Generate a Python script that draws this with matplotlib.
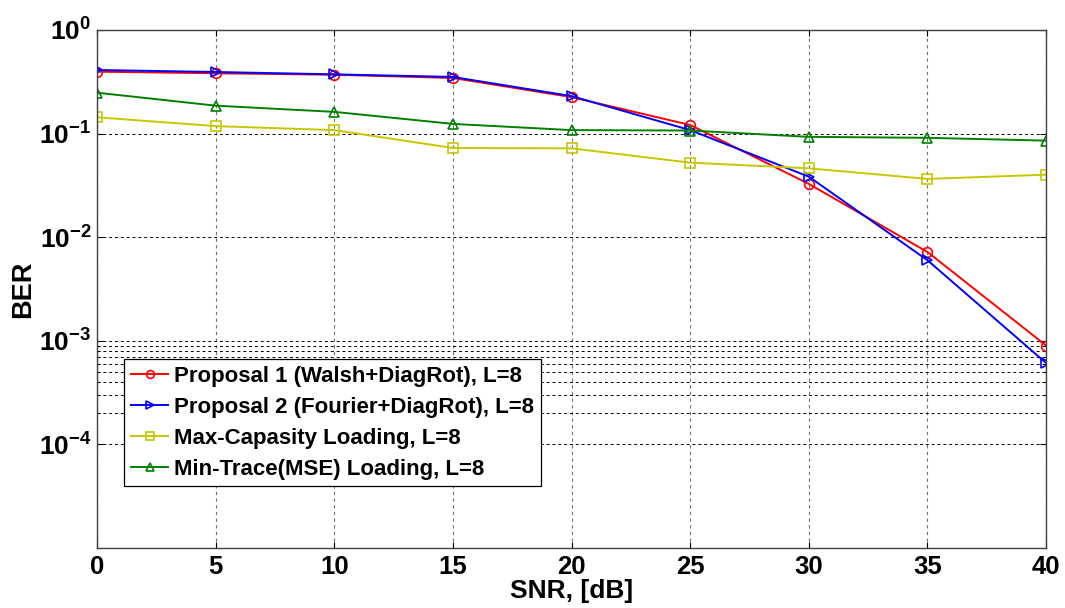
import matplotlib
matplotlib.use('Agg')
import matplotlib.pyplot as plt
from matplotlib.ticker import FixedLocator, NullFormatter

plt.rcParams['font.family'] = ['Liberation Sans', 'DejaVu Sans']
plt.rcParams['mathtext.fontset'] = 'custom'
plt.rcParams['mathtext.rm'] = 'Liberation Sans'
plt.rcParams['mathtext.bf'] = 'Liberation Sans:bold'

snr = [0, 5, 10, 15, 20, 25, 30, 35, 40]
ber_walsh = [0.396, 0.382, 0.370, 0.344, 0.225, 0.121, 0.0327, 0.0072, 0.00090]
ber_fourier = [0.411, 0.393, 0.373, 0.352, 0.230, 0.108, 0.0384, 0.0060, 0.00061]
ber_maxcap = [0.1436, 0.118, 0.108, 0.0726, 0.072, 0.0524, 0.0462, 0.0365, 0.0401]
ber_mintrace = [0.248, 0.186, 0.162, 0.124, 0.108, 0.107, 0.093, 0.091, 0.0855]

labels = ['Proposal 1 (Walsh+DiagRot), L=8',
          'Proposal 2 (Fourier+DiagRot), L=8',
          'Max-Capasity Loading, L=8',
          'Min-Trace(MSE) Loading, L=8']

ytick_vals = [1e-4, 1e-3, 1e-2, 1e-1, 1e0]
ytick_labels = [r'$\mathbf{10^{-4}}$', r'$\mathbf{10^{-3}}$', r'$\mathbf{10^{-2}}$',
                r'$\mathbf{10^{-1}}$', r'$\mathbf{10^{0}}$']
minor_vals = [2e-4, 3e-4, 4e-4, 5e-4, 6e-4, 7e-4, 8e-4, 9e-4]

fig = plt.figure(figsize=(10.65, 6.08), dpi=100)
ax = fig.add_axes([0.0911, 0.0987, 0.8911, 0.852])

style = dict(lw=1.4, mfc='none', mew=1.2, ms=7)
ax.semilogy(snr, ber_walsh, '-o', color='red', label=labels[0], **style)
ax.semilogy(snr, ber_fourier, '->', color='blue', label=labels[1], **style)
ax.semilogy(snr, ber_maxcap, '-s', color=(0.78, 0.78, 0.0), label=labels[2], **style)
ax.semilogy(snr, ber_mintrace, '-^', color=(0.0, 0.5, 0.0), label=labels[3], **style)

ax.set_xlim(0, 40)
ax.set_ylim(1e-5, 1e0)
ax.set_xticks(snr)
ax.set_xticklabels([str(v) for v in snr], fontsize=18.5, fontweight='bold')
ax.yaxis.set_major_locator(FixedLocator(ytick_vals))
ax.set_yticklabels(ytick_labels, fontsize=19)
for lab in ax.get_yticklabels():
    lab.set_va('center_baseline')
ax.yaxis.set_minor_locator(FixedLocator(minor_vals))
ax.yaxis.set_minor_formatter(NullFormatter())

ax.tick_params(which='both', direction='in', top=True, right=True, length=4, width=0.8)
ax.tick_params(which='minor', length=2)
ax.tick_params(axis='y', pad=4)
ax.tick_params(axis='x', pad=5)

ax.grid(True, axis='x', which='major', color='0.45', ls=(0, (3, 3)), lw=0.8)
ax.grid(True, axis='y', which='both', color='black', ls=(0, (3, 3)), lw=0.7)
ax.set_axisbelow(True)

for sp in ax.spines.values():
    sp.set_color('0.25')
    sp.set_linewidth(1.0)

ax.set_xlabel('SNR, [dB]', fontsize=19, fontweight='bold', labelpad=0)
ax.set_ylabel('BER', fontsize=19.5, fontweight='bold', labelpad=2)

leg = ax.legend(loc='upper left', bbox_to_anchor=(124 / 1065, 1 - 359 / 608),
                bbox_transform=fig.transFigure, borderaxespad=0,
                prop={'size': 16, 'weight': 'bold'}, handlelength=1.7,
                labelspacing=0.45, handletextpad=0.25, borderpad=0.3,
                markerscale=0.8, fancybox=False, framealpha=1, edgecolor='black')
leg.get_frame().set_linewidth(0.9)

fig.savefig('out.png', dpi=100)
